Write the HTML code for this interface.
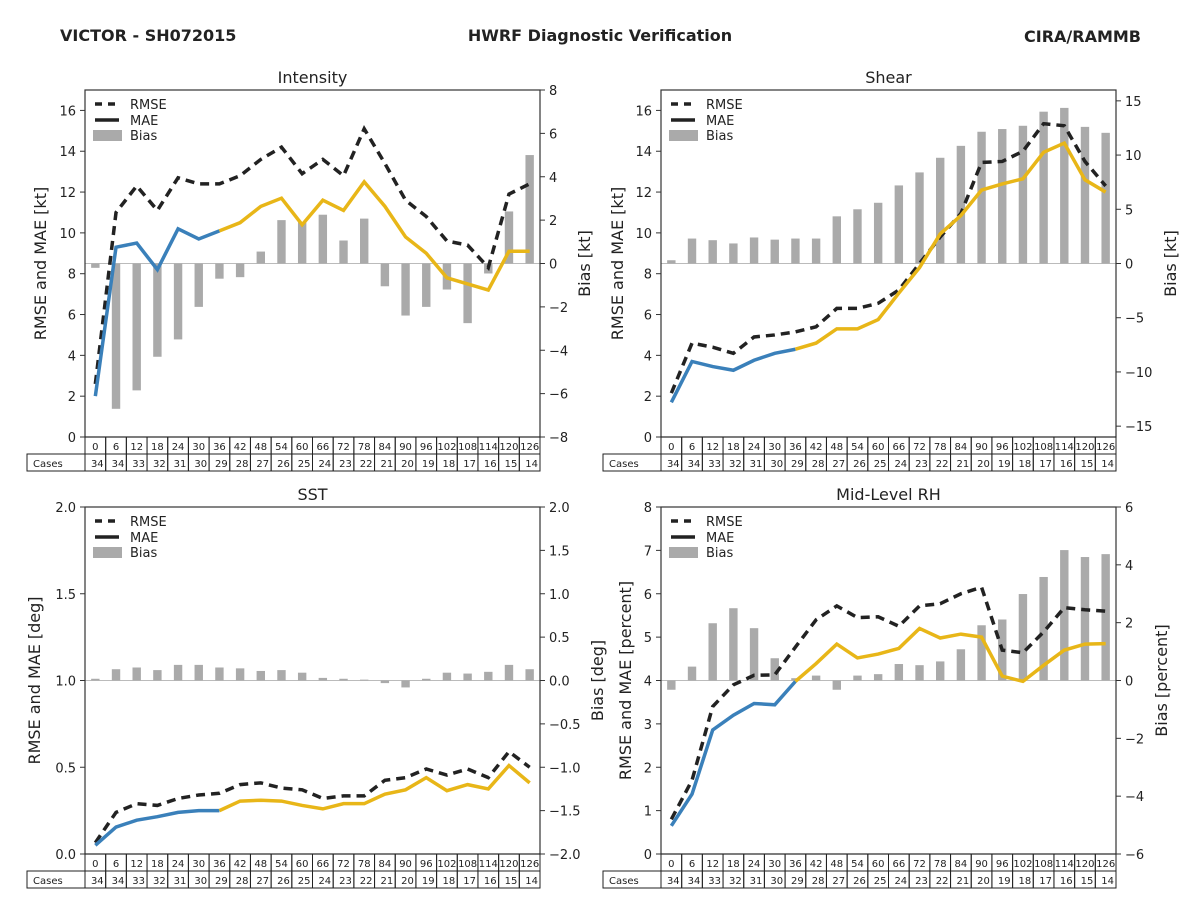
<!DOCTYPE html>
<html><head><meta charset="utf-8"><style>
body{margin:0;background:#fff;}
svg{display:block;font-family:"DejaVu Sans","Liberation Sans",sans-serif;}
</style></head><body>
<svg id="c" width="1200" height="900" viewBox="0 0 1200 900">
<text x="60" y="41" font-size="16" font-weight="bold" fill="#222">VICTOR - SH072015</text>
<text x="600" y="41" font-size="16" font-weight="bold" fill="#222" text-anchor="middle">HWRF Diagnostic Verification</text>
<text x="1141" y="42" font-size="16" font-weight="bold" fill="#222" text-anchor="end">CIRA/RAMMB</text>
</svg>
<script>
const leads=[0,6,12,18,24,30,36,42,48,54,60,66,72,78,84,90,96,102,108,114,120,126];
const cases=[34,34,33,32,31,30,29,28,27,26,25,24,23,22,21,20,19,18,17,16,15,14];
const intRmse=[2.6,11.0,12.3,11.1,12.7,12.4,12.4,12.8,13.6,14.2,12.9,13.6,12.8,15.1,13.4,11.6,10.8,9.6,9.4,8.3,11.9,12.4];
const intMae=[2.0,9.3,9.5,8.2,10.2,9.7,10.1,10.5,11.3,11.7,10.4,11.6,11.1,12.5,11.3,9.8,9.0,7.8,7.5,7.2,9.1,9.1];
const intBias=[-0.2,-6.7,-5.85,-4.3,-3.5,-2.0,-0.7,-0.63,0.55,2.0,1.9,2.25,1.06,2.07,-1.05,-2.4,-2.0,-1.2,-2.75,-0.46,2.4,5.0];
const shrRmse=[2.15,4.6,4.4,4.1,4.9,5.0,5.15,5.4,6.3,6.3,6.55,7.2,8.5,9.8,10.95,13.45,13.5,14.0,15.35,15.25,13.5,12.3];
const shrMae=[1.7,3.7,3.45,3.27,3.76,4.1,4.3,4.6,5.3,5.3,5.75,7.05,8.3,9.95,10.85,12.1,12.4,12.65,13.95,14.4,12.6,12.0];
const shrBias=[0.3,2.3,2.15,1.85,2.4,2.2,2.3,2.3,4.35,5.0,5.6,7.2,8.4,9.75,10.85,12.15,12.4,12.7,14.0,14.35,12.6,12.05];
const sstRmse=[0.065,0.24,0.29,0.28,0.32,0.34,0.35,0.40,0.41,0.38,0.37,0.32,0.335,0.335,0.425,0.44,0.49,0.455,0.49,0.44,0.59,0.5];
const sstMae=[0.05,0.155,0.195,0.215,0.24,0.25,0.25,0.305,0.31,0.305,0.28,0.26,0.29,0.29,0.345,0.37,0.44,0.365,0.4,0.375,0.51,0.41];
const sstBias=[0.02,0.13,0.15,0.12,0.18,0.18,0.15,0.14,0.11,0.12,0.09,0.03,0.02,0.01,-0.03,-0.08,0.02,0.09,0.08,0.1,0.18,0.13];
const rhRmse=[0.8,1.7,3.4,3.9,4.12,4.13,4.77,5.4,5.72,5.45,5.47,5.25,5.72,5.77,6.0,6.15,4.7,4.64,5.12,5.68,5.63,5.6];
const rhMae=[0.65,1.38,2.86,3.2,3.47,3.44,3.98,4.39,4.84,4.52,4.61,4.74,5.2,4.98,5.07,5.0,4.1,3.98,4.35,4.7,4.84,4.85];
const rhBias=[-0.32,0.48,1.98,2.5,1.81,0.77,0.08,0.17,-0.32,0.17,0.22,0.57,0.53,0.66,1.08,1.91,2.11,2.99,3.58,4.51,4.27,4.37];

const NS='http://www.w3.org/2000/svg';
const svg=document.getElementById('c');
function mk(tag,attrs,parent,txt){const e=document.createElementNS(NS,tag);for(const k in attrs)e.setAttribute(k,attrs[k]);if(txt!==undefined)e.textContent=txt;(parent||svg).appendChild(e);return e;}

const panels=[
 {key:'intensity',title:'Intensity',x0:85,y0:90,lmin:0,lmax:17,lt:[0,2,4,6,8,10,12,14,16],lfmt:v=>v,rmin:-8,rmax:8,rt:[-8,-6,-4,-2,0,2,4,6,8],rfmt:v=>(v<0?'\u2212':'')+Math.abs(v),ylab:'RMSE and MAE [kt]',rlab:'Bias [kt]',rmse:intRmse,mae:intMae,bias:intBias,yl:46,yr:590},
 {key:'shear',title:'Shear',x0:661,y0:90,lmin:0,lmax:17,lt:[0,2,4,6,8,10,12,14,16],lfmt:v=>v,rmin:-16,rmax:16,rt:[-15,-10,-5,0,5,10,15],rfmt:v=>(v<0?'\u2212':'')+Math.abs(v),ylab:'RMSE and MAE [kt]',rlab:'Bias [kt]',rmse:shrRmse,mae:shrMae,bias:shrBias,yl:623,yr:1176},
 {key:'sst',title:'SST',x0:85,y0:507,lmin:0,lmax:2,lt:[0,0.5,1,1.5,2],lfmt:v=>v.toFixed(1),rmin:-2,rmax:2,rt:[-2,-1.5,-1,-0.5,0,0.5,1,1.5,2],rfmt:v=>(v<0?'\u2212':'')+Math.abs(v).toFixed(1),ylab:'RMSE and MAE [deg]',rlab:'Bias [deg]',rmse:sstRmse,mae:sstMae,bias:sstBias,yl:40,yr:603},
 {key:'rh',title:'Mid-Level RH',x0:661,y0:507,lmin:0,lmax:8,lt:[0,1,2,3,4,5,6,7,8],lfmt:v=>v,rmin:-6,rmax:6,rt:[-6,-4,-2,0,2,4,6],rfmt:v=>(v<0?'\u2212':'')+Math.abs(v),ylab:'RMSE and MAE [percent]',rlab:'Bias [percent]',rmse:rhRmse,mae:rhMae,bias:rhBias,yl:631,yr:1167},
];
const W=455,H=347,N=leads.length,cw=W/N;
panels.forEach(p=>{
 const g=mk('g',{});
 
 
 const xs=i=>p.x0+(i+0.5)*cw;
 const yl=v=>p.y0+H-(v-p.lmin)/(p.lmax-p.lmin)*H;
 const yr=v=>p.y0+H-(v-p.rmin)/(p.rmax-p.rmin)*H;
 const t=mk('text',{x:p.x0+W/2,y:p.y0-7,'font-size':16,'text-anchor':'middle',fill:'#222'},g,p.title);
 
 
 mk('line',{x1:p.x0,x2:p.x0+W,y1:yr(0),y2:yr(0),stroke:'#bbb','stroke-width':1},g);
 p.bias.forEach((b,i)=>{
  const y1=yr(Math.max(b,0)),y2=yr(Math.min(b,0));
  const r=mk('rect',{x:xs(i)-4.2,y:y1,width:8.4,height:Math.max(y2-y1,0.5),fill:'#aaaaaa'},g);
  
  
 });
 const rp=p.rmse.map((v,i)=>xs(i)+','+yl(v)).join(' ');
 const rl=mk('polyline',{points:rp,fill:'none',stroke:'#222','stroke-width':3.5,'stroke-dasharray':'9,6'},g);
 
 
 const bp=p.mae.slice(0,7).map((v,i)=>xs(i)+','+yl(v)).join(' ');
 const yp=p.mae.slice(6).map((v,i)=>xs(i+6)+','+yl(v)).join(' ');
 const ml=mk('polyline',{points:bp,fill:'none',stroke:'#3a80ba','stroke-width':3.5},g);
 
 
 const ml2=mk('polyline',{points:yp,fill:'none',stroke:'#e8b618','stroke-width':3.5},g);
 
 
 mk('rect',{x:p.x0,y:p.y0,width:W,height:H,fill:'none',stroke:'#333','stroke-width':1.2},g);
 p.lt.forEach(v=>{const y=yl(v);mk('line',{x1:p.x0-5,x2:p.x0,y1:y,y2:y,stroke:'#333'},g);
  const tx=mk('text',{x:p.x0-9,y:y+5,'font-size':13,'text-anchor':'end',fill:'#222'},g,p.lfmt(v));
  });
 p.rt.forEach(v=>{const y=yr(v);mk('line',{x1:p.x0+W,x2:p.x0+W+5,y1:y,y2:y,stroke:'#333'},g);
  const tx=mk('text',{x:p.x0+W+9,y:y+5,'font-size':13,fill:'#222'},g,p.rfmt(v));
  });
 const la=mk('text',{x:p.yl,y:p.y0+H/2,'font-size':16,'text-anchor':'middle',fill:'#222',transform:`rotate(-90 ${p.yl} ${p.y0+H/2})`},g,p.ylab);
 
 const ra=mk('text',{x:p.yr,y:p.y0+H/2,'font-size':16,'text-anchor':'middle',fill:'#222',transform:`rotate(-90 ${p.yr} ${p.y0+H/2})`},g,p.rlab);
 
 const lg=mk('g',{},g);
 
 const lx=p.x0+10,ly=p.y0+14;
 mk('line',{x1:lx,x2:lx+24,y1:ly,y2:ly,stroke:'#222','stroke-width':3.5,'stroke-dasharray':'7,6'},lg);
 mk('text',{x:lx+35,y:ly+5,'font-size':13,fill:'#222'},lg,'RMSE');
 mk('line',{x1:lx,x2:lx+24,y1:ly+16,y2:ly+16,stroke:'#222','stroke-width':3.5},lg);
 mk('text',{x:lx+35,y:ly+21,'font-size':13,fill:'#222'},lg,'MAE');
 mk('rect',{x:lx-2,y:ly+26,width:29,height:11,fill:'#aaa'},lg);
 mk('text',{x:lx+35,y:ly+36,'font-size':13,fill:'#222'},lg,'Bias');
 const tb=mk('g',{},g);
 
 const ty=p.y0+H;
 mk('rect',{x:p.x0-58,y:ty+17,width:58,height:17,fill:'none',stroke:'#222'},tb);
 mk('text',{x:p.x0-52,y:ty+30,'font-size':10,fill:'#222'},tb,'Cases');
 leads.forEach((l,i)=>{
  const cx=p.x0+i*cw;
  mk('rect',{x:cx,y:ty,width:cw,height:17,fill:'none',stroke:'#222'},tb);
  mk('rect',{x:cx,y:ty+17,width:cw,height:17,fill:'none',stroke:'#222'},tb);
  mk('text',{x:cx+cw/2,y:ty+13,'font-size':10,'text-anchor':'middle',fill:'#222'},tb,l);
  mk('text',{x:cx+cw-2,y:ty+30,'font-size':10,'text-anchor':'end',fill:'#222'},tb,cases[i]);
 });
});
</script>
</body></html>
